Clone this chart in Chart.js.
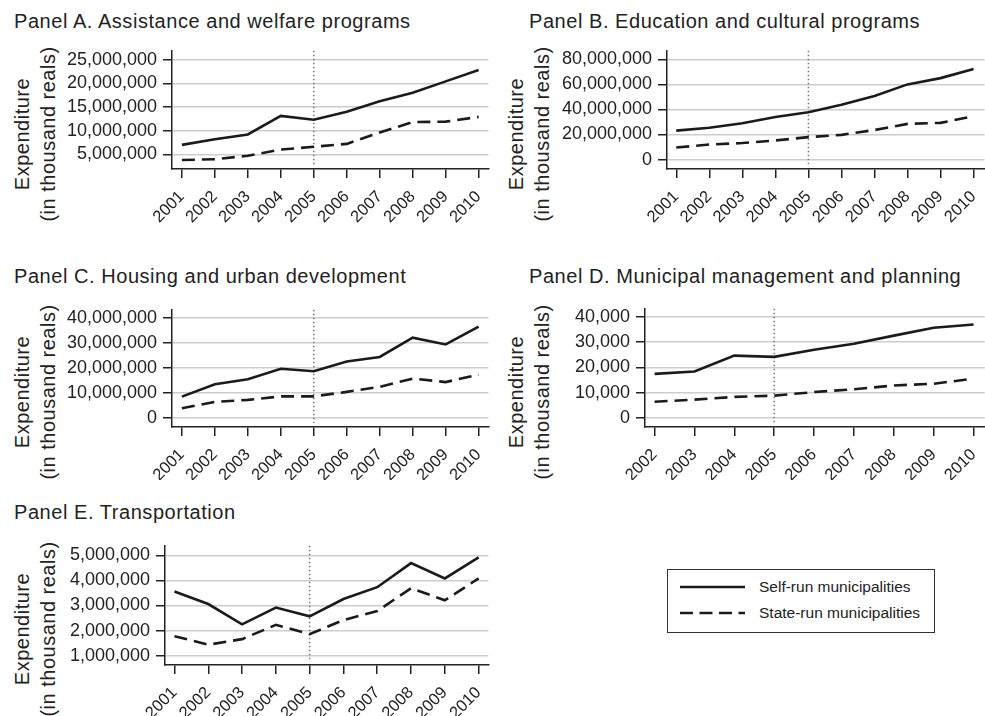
<!DOCTYPE html>
<html>
<head>
<meta charset="utf-8">
<script src="https://cdn.jsdelivr.net/npm/chart.js@4.4.0/dist/chart.umd.min.js"></script>
<style>
  html, body { margin: 0; padding: 0; background: #fff; }
  body { width: 985px; height: 716px; overflow: hidden; position: relative;
         font-family: "Liberation Sans", Arial, Helvetica, sans-serif; color: #222; }
  canvas { position: absolute; }
  .title { position: absolute; font-size: 20px; letter-spacing: 0.55px; line-height: 20px; white-space: nowrap; }
  .ytitle { position: absolute; font-size: 20px; line-height: 26px; letter-spacing: 0.5px; text-align: center;
            white-space: nowrap; transform: translate(-50%, -50%) rotate(-90deg); }
  .legend-box { position: absolute; border: 1.5px solid #333; box-sizing: border-box; }
  .legend-text { position: absolute; font-size: 15.5px; line-height: 18px; white-space: nowrap; }
</style>
</head>
<body>
<div class="title" style="left:14px;top:11px;">Panel A. Assistance and welfare programs</div>
<div class="title" style="left:529px;top:11px;">Panel B. Education and cultural programs</div>
<div class="title" style="left:14px;top:266px;">Panel C. Housing and urban development</div>
<div class="title" style="left:529px;top:266px;">Panel D. Municipal management and planning</div>
<div class="title" style="left:14px;top:502px;">Panel E. Transportation</div>

<div class="ytitle" style="left:35px;top:134px;">Expenditure<br>(in thousand reals)</div>
<div class="ytitle" style="left:529px;top:134px;">Expenditure<br>(in thousand reals)</div>
<div class="ytitle" style="left:35px;top:392px;">Expenditure<br>(in thousand reals)</div>
<div class="ytitle" style="left:529px;top:392px;">Expenditure<br>(in thousand reals)</div>
<div class="ytitle" style="left:35px;top:629px;">Expenditure<br>(in thousand reals)</div>

<div class="legend-box" style="left:667px;top:569px;width:268px;height:64px;"></div>
<svg style="position:absolute;left:0;top:0;" width="985" height="716">
  <line x1="680" y1="587" x2="745" y2="587" stroke="#1b1b1b" stroke-width="2.6"/>
  <line x1="680" y1="613" x2="745" y2="613" stroke="#1b1b1b" stroke-width="2.6" stroke-dasharray="13 6.5"/>
</svg>
<div class="legend-text" style="left:759px;top:578px;">Self-run municipalities</div>
<div class="legend-text" style="left:759px;top:604px;">State-run municipalities</div>

<script>
// Municipal expenditure (thousand reals), self-run vs state-run municipalities
const YEARS = [2001, 2002, 2003, 2004, 2005, 2006, 2007, 2008, 2009, 2010];
const YEARS_MGMT = [2002, 2003, 2004, 2005, 2006, 2007, 2008, 2009, 2010];
const REFORM_YEAR = 2005;

const welfareSelf  = [7000000, 8200000, 9200000, 13100000, 12300000, 14000000, 16200000, 18000000, 20400000, 22800000];
const welfareState = [3800000, 3950000, 4700000, 6000000, 6600000, 7200000, 9600000, 11800000, 11900000, 12900000];
const welfareTicks = [5000000, 10000000, 15000000, 20000000, 25000000];

const eduSelf  = [23100000, 25400000, 29000000, 34000000, 37800000, 43800000, 50800000, 60000000, 65000000, 72200000];
const eduState = [9600000, 12000000, 13200000, 15300000, 17900000, 19700000, 23600000, 28500000, 29300000, 34700000];
const eduTicks = [0, 20000000, 40000000, 60000000, 80000000];

const housingSelf  = [8600000, 13500000, 15500000, 19700000, 18700000, 22600000, 24400000, 32100000, 29400000, 36500000];
const housingState = [4000000, 6500000, 7300000, 8700000, 8700000, 10500000, 12500000, 15800000, 14400000, 17400000];
const housingTicks = [0, 10000000, 20000000, 30000000, 40000000];

const mgmtSelf  = [17500, 18400, 24700, 24200, 27000, 29400, 32600, 35700, 37000];
const mgmtState = [6500, 7300, 8400, 8900, 10300, 11400, 12900, 13600, 15600];
const mgmtTicks = [0, 10000, 20000, 30000, 40000];

const transSelf  = [3560000, 3060000, 2250000, 2920000, 2570000, 3260000, 3730000, 4690000, 4080000, 4920000];
const transState = [1780000, 1440000, 1660000, 2230000, 1860000, 2420000, 2780000, 3690000, 3210000, 4080000];
const transTicks = [1000000, 2000000, 3000000, 4000000, 5000000];

const FONT = '"Liberation Sans", Arial, Helvetica, sans-serif';
const INK = '#1b1b1b';

// dotted vertical marker at the reform year
const reformLine = {
  id: 'reformLine',
  beforeDatasetsDraw(chart) {
    const { ctx, chartArea } = chart;
    const x = chart.scales.x.getPixelForValue(REFORM_YEAR);
    ctx.save();
    ctx.setLineDash([1.5, 2.5]);
    ctx.strokeStyle = '#777';
    ctx.lineWidth = 1.5;
    ctx.beginPath();
    ctx.moveTo(x, chartArea.top);
    ctx.lineTo(x, chartArea.bottom - 4);
    ctx.stroke();
    ctx.restore();
  }
};

function makePanel(p) {
  const canvas = document.createElement('canvas');
  canvas.width = p.width;
  canvas.height = p.height;
  canvas.style.left = p.left + 'px';
  canvas.style.top = p.top + 'px';
  document.body.appendChild(canvas);

  const toPoints = (vals) => p.years.map((yr, i) => ({ x: yr, y: vals[i] }));

  new Chart(canvas, {
    type: 'line',
    data: {
      datasets: [
        { label: 'Self-run municipalities', data: toPoints(p.self), borderColor: INK, borderWidth: 2.6,
          pointRadius: 0, tension: 0, fill: false },
        { label: 'State-run municipalities', data: toPoints(p.state), borderColor: INK, borderWidth: 2.6,
          borderDash: [13, 7], pointRadius: 0, tension: 0, fill: false }
      ]
    },
    options: {
      responsive: false,
      animation: false,
      devicePixelRatio: 1,
      events: [],
      layout: { padding: { left: 0, top: p.padTop, right: p.padRight, bottom: p.padBottom } },
      plugins: { legend: { display: false }, tooltip: { enabled: false } },
      scales: {
        x: {
          type: 'linear', min: p.xMin, max: p.xMax,
          afterBuildTicks: (s) => { s.ticks = p.years.map(v => ({ value: v })); },
          afterFit: (s) => { s.height = p.xHeight; },
          ticks: { autoSkip: false, minRotation: 45, maxRotation: 45, callback: (v) => String(v),
                   font: { family: FONT, size: 16.5 }, color: '#222', padding: 9 },
          grid: { drawOnChartArea: false, drawTicks: true, tickLength: 9, tickColor: '#222', tickWidth: 1.5,
                  color: '#222', lineWidth: 1.5 },
          border: { display: true, color: '#222', width: 1.5 }
        },
        y: {
          type: 'linear', min: p.yMin, max: p.yMax,
          afterBuildTicks: (s) => { s.ticks = p.yTicks.map(v => ({ value: v })); },
          afterFit: (s) => { s.width = p.yWidth; },
          ticks: { callback: (v) => Number(v).toLocaleString('en-US'),
                   font: { family: FONT, size: 18 }, color: '#222', padding: 6 },
          grid: { color: '#cdcdcd', lineWidth: 1.5, tickColor: '#222', tickWidth: 1.5, tickLength: 9 },
          border: { display: true, color: '#222', width: 1.5 }
        }
      }
    },
    plugins: [reformLine]
  });
}

makePanel({ left: 0, top: 34, width: 502, height: 206, padTop: 14, padRight: 12, padBottom: 0,
  yWidth: 172, xHeight: 71, years: YEARS, self: welfareSelf, state: welfareState,
  yMin: 1900000, yMax: 26860000, yTicks: welfareTicks, xMin: 2000.7, xMax: 2010.3 });

makePanel({ left: 490, top: 34, width: 507, height: 206, padTop: 14, padRight: 12, padBottom: 0,
  yWidth: 177, xHeight: 71, years: YEARS, self: eduSelf, state: eduState,
  yMin: -7500000, yMax: 86800000, yTicks: eduTicks, xMin: 2000.72, xMax: 2010.33 });

makePanel({ left: 0, top: 293, width: 502, height: 200, padTop: 14, padRight: 12, padBottom: 13,
  yWidth: 172, xHeight: 53, years: YEARS, self: housingSelf, state: housingState,
  yMin: -3500000, yMax: 43200000, yTicks: housingTicks, xMin: 2000.7, xMax: 2010.3 });

makePanel({ left: 490, top: 292, width: 507, height: 200, padTop: 14, padRight: 12, padBottom: 12,
  yWidth: 155, xHeight: 53, years: YEARS_MGMT, self: mgmtSelf, state: mgmtState,
  yMin: -3500, yMax: 43200, yTicks: mgmtTicks, xMin: 2001.76, xMax: 2010.28 });

makePanel({ left: 0, top: 529, width: 502, height: 187, padTop: 14, padRight: 12, padBottom: 0,
  yWidth: 165, xHeight: 51, years: YEARS, self: transSelf, state: transState,
  yMin: 630000, yMax: 5380000, yTicks: transTicks, xMin: 2000.72, xMax: 2010.29 });
</script>
</body>
</html>
